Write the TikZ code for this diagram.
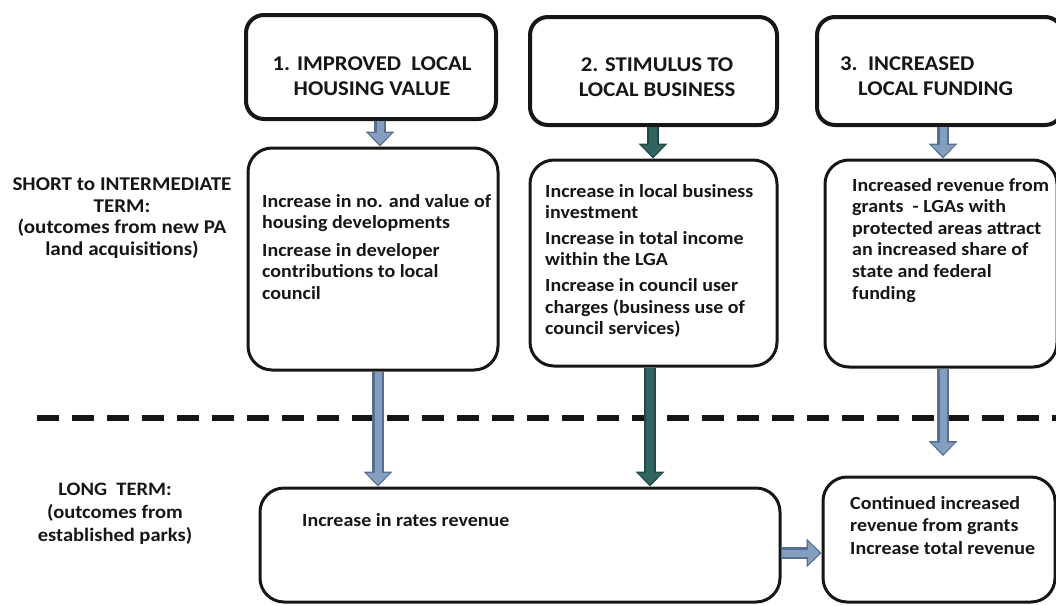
\documentclass[tikz,border=0pt]{standalone}
\usepackage{fontspec}
\setmainfont{Carlito}[FakeStretch=1.08]
\usetikzlibrary{arrows.meta}

\definecolor{ink}{HTML}{161616}
\definecolor{lightflow}{HTML}{849EC0}
\definecolor{lightedge}{HTML}{566F90}
\definecolor{darkflow}{HTML}{2F6461}
\definecolor{darkedge}{HTML}{214846}

\begin{document}
\begin{tikzpicture}[x=1pt,y=-1pt,
  headbox/.style={draw=ink, line width=4pt, rounded corners=18pt, fill=white, inner sep=0pt},
  headtext/.style={inner sep=0pt, font=\bfseries\fontsize{21}{25.5}\selectfont, text=ink},
  outbox/.style={draw=ink, line width=3pt, rounded corners=24pt, fill=white, inner sep=0pt},
  body/.style={font=\bfseries\fontsize{18.5}{21.6}\selectfont, align=left,
    anchor=north west, inner sep=0pt, text=ink},
  side/.style={font=\bfseries\fontsize{19.5}{21.5}\selectfont, align=center,
    inner sep=0pt, text=ink},
  paleflow/.style={
    preaction={draw=lightedge, line width=12pt, shorten >=0pt,
      -{Triangle[width=29pt,length=15pt,line width=0pt,fill=lightedge]}},
    draw=lightflow, line width=7pt, shorten >=2pt,
    -{Triangle[width=23pt,length=11.5pt,line width=0pt,fill=lightflow]}},
  deepflow/.style={
    preaction={draw=darkedge, line width=12pt, shorten >=0pt,
      -{Triangle[width=29pt,length=15pt,line width=0pt,fill=darkedge]}},
    draw=darkflow, line width=8pt, shorten >=2pt,
    -{Triangle[width=23pt,length=11.5pt,line width=0pt,fill=darkflow]}},
  divider/.style={draw=ink, line width=6pt, dash pattern=on 22pt off 13pt}
]
\useasboundingbox (0,0) rectangle (1056,605);
\clip (0,0) rectangle (1056,605);

% time-frame divider
\coordinate (dl) at (37,418);
\coordinate (dr) at (1060,418);
\draw[divider] (dl) -- (dr);

% headline boxes
\node[headbox, minimum width=250, minimum height=104] (h1) at (371,67) {};
\node[headbox, minimum width=247, minimum height=108] (h2) at (653.5,71) {};
\node[headbox, minimum width=246, minimum height=108] (h3) at (940,71) {};
\node[headtext, align=center] (h1t) at (372,76) {1. IMPROVED\ \ LOCAL\\HOUSING VALUE};
\node[headtext, align=center] (h2t) at (657,77) {2. STIMULUS TO\\LOCAL BUSINESS};
\node[headtext, align=left, anchor=west] (h3t) at (840,76)
  {3.\ \ INCREASED\\\hspace*{18pt}LOCAL FUNDING};

% short to intermediate outcome boxes
\node[outbox, minimum width=250, minimum height=222] (m1) at (373,259) {};
\node[outbox, minimum width=247, minimum height=206] (m2) at (653.5,263) {};
\node[outbox, minimum width=232, minimum height=207] (m3) at (941,263.5) {};

\node[body] (m1t) at (262,194) {Increase in no. and value of\\housing developments\\[6pt]
  Increase in developer\\contributions to local\\council};
\node[body] (m2t) at (545,184) {Increase in local business\\investment\\[4pt]
  Increase in total income\\within the LGA\\[4pt]
  Increase in council user\\charges (business use of\\council services)};
\node[body] (m3t) at (852,178) {Increased revenue from\\grants\ \ - LGAs with\\
  protected areas attract\\an increased share of\\state and federal\\funding};

% long term boxes
\node[outbox, minimum width=520, minimum height=114] (l1) at (520,545) {};
\node[outbox, minimum width=232, minimum height=125] (l2) at (939,539.5) {};
\node[body] (l1t) at (302,513) {Increase in rates revenue};
\node[body, font=\bfseries\fontsize{18.5}{22.5}\selectfont] (l2t) at (850,496)
  {Continued increased\\revenue from grants\\Increase total revenue};

% row labels
\node[side] (st) at (122,218) {SHORT to INTERMEDIATE\\TERM:\\(outcomes from new PA\\land acquisitions)};
\node[side, font=\bfseries\fontsize{19}{23}\selectfont] (lt) at (115,514)
  {LONG\ \ TERM:\\(outcomes from\\established parks)};

% flows between boxes
\coordinate (m3end) at (943,456);
\draw[paleflow] ([xshift=9pt]h1.south) -- ([xshift=7pt]m1.north);
\draw[deepflow] ([xshift=-0.5pt]h2.south) -- ([xshift=-0.5pt]m2.north);
\draw[paleflow] ([xshift=3pt]h3.south) -- ([xshift=2pt]m3.north);
\draw[paleflow] ([xshift=5pt]m1.south) -- ([xshift=5pt]m1.south |- l1.north);
\draw[deepflow] ([xshift=-3.5pt]m2.south) -- ([xshift=-3.5pt]m2.south |- l1.north);
\draw[paleflow] ([xshift=2pt]m3.south) -- (m3end);
\draw[paleflow] ([yshift=-8pt]l1.east) -- ([yshift=-8pt]l1.east -| l2.west);
\end{tikzpicture}
\end{document}
